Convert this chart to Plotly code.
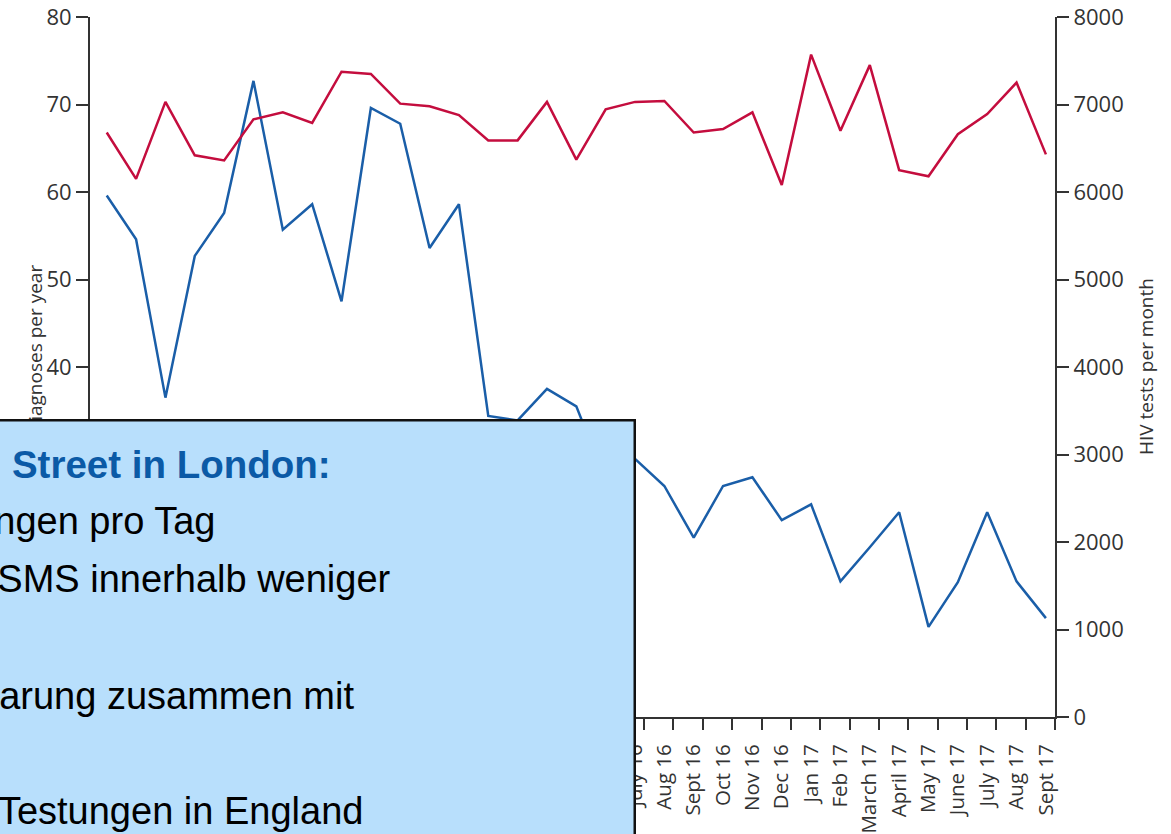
import plotly.graph_objects as go

months = [
    "Jan 15", "Feb 15", "March 15", "April 15", "May 15", "June 15", "July 15", "Aug 15",
    "Sept 15", "Oct 15", "Nov 15", "Dec 15",
    "Jan 16", "Feb 16", "March 16", "April 16", "May 16", "June 16", "July 16", "Aug 16",
    "Sept 16", "Oct 16", "Nov 16", "Dec 16",
    "Jan 17", "Feb 17", "March 17", "April 17", "May 17", "June 17", "July 17", "Aug 17",
    "Sept 17",
]
diagnoses = [59.6, 54.6, 36.5, 52.7, 57.6, 72.7, 55.7, 58.6, 47.5, 69.6, 67.8, 53.6,
             58.6, 34.4, 33.9, 37.5, 35.5, 27.0, 29.5, 26.4, 20.5, 26.4, 27.4, 22.5,
             24.3, 15.5, 19.4, 23.4, 10.3, 15.4, 23.4, 15.5, 11.3]
tests = [6680, 6150, 7030, 6420, 6360, 6830, 6910, 6790, 7375, 7350, 7010, 6980,
         6880, 6590, 6590, 7030, 6370, 6945, 7030, 7040, 6680, 6720, 6910, 6080,
         7570, 6700, 7450, 6250, 6180, 6660, 6890, 7250, 6430]
left_ticks = [0, 10, 20, 30, 40, 50, 60, 70, 80]
right_ticks = [0, 1000, 2000, 3000, 4000, 5000, 6000, 7000, 8000]

box_lines = [
    "Erfahrungen 56 Dean Street in London:",
    "- bis zu 1000 Testungen pro Tag",
    "- Ergebnisse per SMS innerhalb weniger",
    "- Terminvereinbarung zusammen mit",
    "- ca. 10 % aller HIV-Testungen in England",
]

W, H = 1171, 834
L, R, T, B = 90, 116, 17, 117
AX = "#333333"
YFONT = dict(family="Open Sans", size=22, color="#333333")
XFONT = dict(family="Open Sans", size=20.5, color="#333333")
TITLEFONT = dict(family="Open Sans", size=19, color="#333333")


def px_x(px):
    return (px - L) / (W - L - R)


def px_y(py):
    return (H - B - py) / (H - T - B)


idx = list(range(len(months)))

fig = go.Figure()
fig.add_trace(go.Scatter(x=idx, y=tests, yaxis="y2", mode="lines",
                         line=dict(color="#c40d3e", width=2.5)))
fig.add_trace(go.Scatter(x=idx, y=diagnoses, mode="lines",
                         line=dict(color="#1a5ea8", width=2.5)))

axis_common = dict(showgrid=False, zeroline=False, showline=True, linecolor=AX,
                   linewidth=2, ticks="outside", tickwidth=2,
                   ticklabeloverflow="allow", automargin=False)

# boxed note: annotations are drawn in order, so the left title sits under the box
notes = [
    dict(text="HIV diagnoses per year", x=px_x(20), y=px_y(367), textangle=-90,
         font=TITLEFONT),
    dict(text="HIV tests per month", x=px_x(1161), y=px_y(367), textangle=-90,
         font=TITLEFONT),
    dict(text=" ", x=px_x(636), y=px_y(419), xanchor="right", yanchor="top",
         width=900, height=520, bgcolor="#b8dffc", bordercolor="#111111",
         borderwidth=2.5, borderpad=0),
]
line_pos = [(333, 464), (217, 521), (393, 579), (356, 696), (365, 811)]
for i, (txt, (ex, cy)) in enumerate(zip(box_lines, line_pos)):
    if i == 0:
        f = dict(family="Liberation Sans", size=38.5, color="#0b5aa6", weight="bold")
    else:
        f = dict(family="Liberation Sans", size=38, color="black")
    notes.append(dict(text=txt, x=px_x(ex), y=px_y(cy), xanchor="right",
                      yanchor="middle", font=f))
for a in notes:
    a.update(xref="paper", yref="paper", showarrow=False)

fig.update_layout(
    width=W, height=H,
    margin=dict(l=L, r=R, t=T, b=B, pad=0),
    plot_bgcolor="white", paper_bgcolor="white",
    showlegend=False,
    xaxis=dict(range=[-0.57, 32.31], tickmode="array", tickvals=idx, ticktext=months,
               tickangle=-90, ticklen=17, tickcolor="rgba(0,0,0,0)", tickfont=XFONT,
               minor=dict(tick0=0.31, dtick=1, ticks="outside", ticklen=11,
                          tickwidth=2, tickcolor=AX),
               **axis_common),
    yaxis=dict(range=[0, 80], tickmode="array", tickvals=left_ticks, ticklen=12,
               tickcolor=AX, tickfont=YFONT, **axis_common),
    yaxis2=dict(range=[0, 8000], tickmode="array", tickvals=right_ticks, ticklen=12,
                tickcolor=AX, tickfont=YFONT, overlaying="y", side="right",
                **axis_common),
    annotations=notes,
)

# drop the page's default body margin so the figure sits at the window corner
fig.write_html("out.html", config={"displayModeBar": False},
               post_script="document.body.style.margin = '0';")
